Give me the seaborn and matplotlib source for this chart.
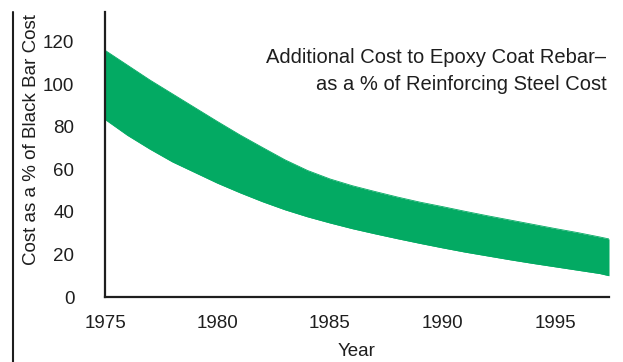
import matplotlib
matplotlib.use("Agg")
import matplotlib.pyplot as plt
from matplotlib.lines import Line2D
import seaborn as sns
import pandas as pd

# Band of added epoxy-coating cost, % of black bar cost
years = [1975, 1976, 1977, 1978, 1979, 1980, 1981, 1982, 1983, 1984, 1985, 1986,
         1987, 1988, 1989, 1990, 1991, 1992, 1993, 1994, 1995, 1996, 1997, 1997.4]
upper = [116, 109, 102, 95.5, 89, 82.5, 76.2, 70.3, 64.5, 59.5, 55.5, 52.3,
         49.6, 47, 44.6, 42.5, 40.3, 38.2, 36.2, 34.2, 32.2, 30.3, 28.2, 27.3]
lower = [83.5, 76, 69.5, 63.5, 58.5, 53.5, 49, 44.8, 41, 37.7, 34.8, 32.1,
         29.7, 27.4, 25.2, 23.1, 21.1, 19.3, 17.5, 15.8, 14.2, 12.6, 11, 10]

x_ticks = [1975, 1980, 1985, 1990, 1995]
y_ticks = [0, 20, 40, 60, 80, 100, 120]

title_lines = ["Additional Cost to Epoxy Coat Rebar\u2013",
               "as a % of Reinforcing Steel Cost"]

green = "#03AA63"
ink = "#1e1e1e"

sns.set_theme(style="white")
plt.rcParams["font.family"] = ["Liberation Sans", "DejaVu Sans"]

df = pd.DataFrame({"Year": years, "upper": upper, "lower": lower})

fig = plt.figure(figsize=(6.23, 3.62), dpi=100)
ax = fig.add_axes([105 / 623, 1 - 297 / 362, (609 - 105) / 623, (297 - 12) / 362])

ax.fill_between(df["Year"], df["lower"], df["upper"], color=green, linewidth=0)
sns.lineplot(data=df, x="Year", y="upper", ax=ax, color=green, linewidth=0.6)
sns.lineplot(data=df, x="Year", y="lower", ax=ax, color=green, linewidth=0.6)

ax.set_xlim(1975, 1997.4)
ax.set_ylim(0, 134)
ax.set_xticks(x_ticks)
ax.set_yticks(y_ticks)
ax.tick_params(axis="both", length=0, labelsize=13.5, colors=ink)
ax.tick_params(axis="y", pad=22)
ax.tick_params(axis="x", pad=13)

for side in ("top", "right"):
    ax.spines[side].set_visible(False)
for side in ("left", "bottom"):
    ax.spines[side].set_color(ink)
    ax.spines[side].set_linewidth(1.6)

ax.set_xlabel("Year", fontsize=13.5, color=ink, labelpad=8)
ax.set_ylabel("")
fig.text(32 / 623, 1 - 140 / 362, "Cost as a % of Black Bar Cost", rotation=90,
         ha="center", va="center", fontsize=13.5, color=ink)

ax.text(0.995, 0.793, "\n".join(title_lines), transform=ax.transAxes,
        ha="right", va="center", fontsize=14.5, color=ink, linespacing=1.55,
        multialignment="right")

# frame rule at the far left
fig.add_artist(Line2D([13 / 623, 13 / 623], [0, 1 - 12 / 362],
                      transform=fig.transFigure, color=ink, linewidth=1.5))

fig.savefig("out.png", dpi=100)
